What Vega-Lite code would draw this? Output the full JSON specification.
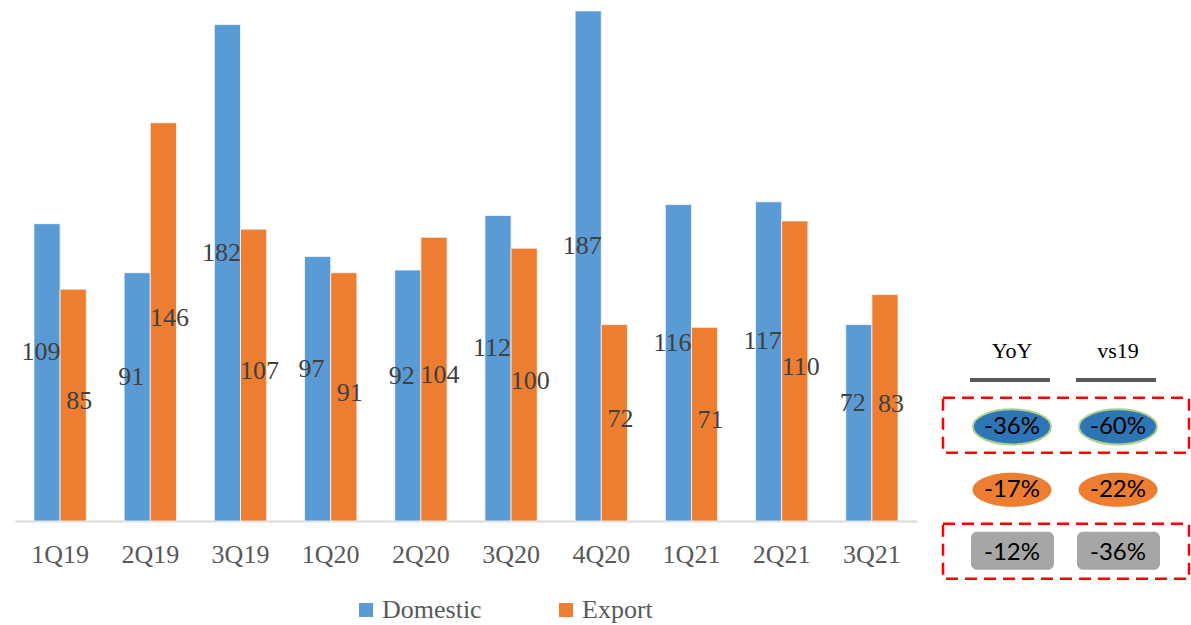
{
  "$schema": "https://vega.github.io/schema/vega-lite/v6.json",
  "padding": {"left": 15, "top": 0, "right": 0, "bottom": 0},
  "background": "white",
  "spacing": 20,
  "config": {
    "view": {"stroke": null},
    "legend": {"labelFont": "Liberation Serif", "labelFontSize": 26, "labelColor": "#595959"}
  },
  "resolve": {"legend": {"color": "independent"}},
  "datasets": {
    "quarters": [
      {"quarter": "1Q19", "series": "Domestic", "value": 109},
      {"quarter": "1Q19", "series": "Export", "value": 85},
      {"quarter": "2Q19", "series": "Domestic", "value": 91},
      {"quarter": "2Q19", "series": "Export", "value": 146},
      {"quarter": "3Q19", "series": "Domestic", "value": 182},
      {"quarter": "3Q19", "series": "Export", "value": 107},
      {"quarter": "1Q20", "series": "Domestic", "value": 97},
      {"quarter": "1Q20", "series": "Export", "value": 91},
      {"quarter": "2Q20", "series": "Domestic", "value": 92},
      {"quarter": "2Q20", "series": "Export", "value": 104},
      {"quarter": "3Q20", "series": "Domestic", "value": 112},
      {"quarter": "3Q20", "series": "Export", "value": 100},
      {"quarter": "4Q20", "series": "Domestic", "value": 187},
      {"quarter": "4Q20", "series": "Export", "value": 72},
      {"quarter": "1Q21", "series": "Domestic", "value": 116},
      {"quarter": "1Q21", "series": "Export", "value": 71},
      {"quarter": "2Q21", "series": "Domestic", "value": 117},
      {"quarter": "2Q21", "series": "Export", "value": 110},
      {"quarter": "3Q21", "series": "Domestic", "value": 72},
      {"quarter": "3Q21", "series": "Export", "value": 83}
    ],
    "panel": [
      {"col": "YoY", "row": 1, "metric": "Domestic", "label": "-36%"},
      {"col": "vs19", "row": 1, "metric": "Domestic", "label": "-60%"},
      {"col": "YoY", "row": 2, "metric": "Export", "label": "-17%"},
      {"col": "vs19", "row": 2, "metric": "Export", "label": "-22%"},
      {"col": "YoY", "row": 3, "metric": "Total", "label": "-12%"},
      {"col": "vs19", "row": 3, "metric": "Total", "label": "-36%"}
    ],
    "headers": [
      {"col": "YoY", "row": 0},
      {"col": "vs19", "row": 0}
    ],
    "boxes": [
      {"row": 1, "from": "YoY", "to": "vs19"},
      {"row": 3, "from": "YoY", "to": "vs19"}
    ]
  },
  "hconcat": [
    {
      "width": 902,
      "height": 521,
      "data": {"name": "quarters"},
      "encoding": {
        "x": {
          "field": "quarter", "type": "nominal", "sort": null,
          "scale": {"paddingInner": 0.42, "paddingOuter": 0.21},
          "axis": {
            "title": null, "labelAngle": 0, "ticks": false, "tickSize": 0,
            "domainColor": "#D9D9D9", "domainWidth": 2,
            "labelFont": "Liberation Serif", "labelFontSize": 26,
            "labelColor": "#595959", "labelPadding": 20, "grid": false
          }
        },
        "xOffset": {
          "field": "series", "type": "nominal", "sort": ["Domestic", "Export"],
          "scale": {"paddingInner": 0, "paddingOuter": 0}
        }
      },
      "layer": [
        {
          "mark": {"type": "bar", "stroke": "#FFFFFF", "strokeWidth": 0.7},
          "encoding": {
            "y": {"field": "value", "type": "quantitative", "scale": {"domain": [0, 191], "nice": false, "zero": true}, "axis": null},
            "color": {
              "field": "series", "type": "nominal", "sort": ["Domestic", "Export"],
              "scale": {"domain": ["Domestic", "Export"], "range": ["#5B9BD5", "#ED7D31"]},
              "legend": {
                "orient": "none", "legendX": 338, "legendY": 597,
                "direction": "horizontal", "title": null,
                "symbolType": "square", "symbolSize": 196, "symbolStrokeWidth": 0,
                "labelFont": "Liberation Serif", "labelFontSize": 26,
                "labelColor": "#595959", "labelOffset": 3, "columnPadding": 71,
                "padding": 0,
                "labelFontStyle": "normal",
                "labelFontWeight": "normal"
              }
            }
          }
        },
        {
          "transform": [
            {"filter": "datum.series === 'Domestic'"},
            {"calculate": "datum.value / 2", "as": "labelPos"}
          ],
          "mark": {"type": "text", "font": "Liberation Serif", "fontSize": 26, "fill": "#404040", "baseline": "middle", "align": "center", "dx": -6, "dy": -20},
          "encoding": {
            "y": {"field": "labelPos", "type": "quantitative", "scale": {"domain": [0, 191], "nice": false, "zero": true}, "axis": null},
            "text": {"field": "value", "type": "quantitative"}
          }
        },
        {
          "transform": [
            {"filter": "datum.series === 'Export'"},
            {"calculate": "datum.value / 2", "as": "labelPos"}
          ],
          "mark": {"type": "text", "font": "Liberation Serif", "fontSize": 26, "fill": "#404040", "baseline": "middle", "align": "center", "dx": 6, "dy": -4},
          "encoding": {
            "y": {"field": "labelPos", "type": "quantitative", "scale": {"domain": [0, 191], "nice": false, "zero": true}, "axis": null},
            "text": {"field": "value", "type": "quantitative"}
          }
        }
      ]
    },
    {
      "width": 256,
      "height": 600,
      "layer": [
        {
          "data": {"name": "boxes"},
          "mark": {"type": "rect", "fill": null, "filled": false, "stroke": "#FF0000", "strokeWidth": 2.5, "strokeDash": [12, 7], "xOffset": -69, "x2Offset": 71, "yOffset": -29, "y2Offset": 26},
          "encoding": {
            "x": {"field": "from", "type": "nominal", "scale": {"type": "point", "domain": ["YoY", "vs19"], "padding": 0.7075}, "axis": null},
            "x2": {"field": "to"},
            "y": {"field": "row", "type": "quantitative", "scale": {"domain": [-5.78, 3.75], "nice": false, "zero": false, "reverse": true}, "axis": null},
            "y2": {"field": "row"}
          }
        },
        {
          "data": {"name": "headers"},
          "mark": {"type": "rect", "fill": "#595959", "xOffset": -42, "x2Offset": 38, "yOffset": 14, "y2Offset": 18},
          "encoding": {
            "x": {"field": "col", "type": "nominal", "scale": {"type": "point", "domain": ["YoY", "vs19"], "padding": 0.7075}, "axis": null},
            "x2": {"field": "col"},
            "y": {"field": "row", "type": "quantitative", "scale": {"domain": [-5.78, 3.75], "nice": false, "zero": false, "reverse": true}, "axis": null},
            "y2": {"field": "row"}
          }
        },
        {
          "data": {"name": "headers"},
          "mark": {"type": "text", "font": "Liberation Serif", "fontSize": 22, "fill": "#000000", "baseline": "middle", "dy": -13},
          "encoding": {
            "x": {"field": "col", "type": "nominal", "scale": {"type": "point", "domain": ["YoY", "vs19"], "padding": 0.7075}, "axis": null},
            "y": {"field": "row", "type": "quantitative", "scale": {"domain": [-5.78, 3.75], "nice": false, "zero": false, "reverse": true}, "axis": null},
            "text": {"field": "col"}
          }
        },
        {
          "data": {"name": "panel"},
          "transform": [{"filter": "datum.metric === 'Domestic'"}],
          "mark": {"type": "point", "filled": true, "opacity": 1, "fill": "#2E75B6", "stroke": "#A9D18E", "strokeWidth": 2, "strokeOpacity": 1, "size": 6084, "shape": "M -1 0 A 1 0.45 0 1 1 1 0 A 1 0.45 0 1 1 -1 0 Z"},
          "encoding": {
            "x": {"field": "col", "type": "nominal", "scale": {"type": "point", "domain": ["YoY", "vs19"], "padding": 0.7075}, "axis": null},
            "y": {"field": "row", "type": "quantitative", "scale": {"domain": [-5.78, 3.75], "nice": false, "zero": false, "reverse": true}, "axis": null}
          }
        },
        {
          "data": {"name": "panel"},
          "transform": [{"filter": "datum.metric === 'Export'"}],
          "mark": {"type": "point", "filled": true, "opacity": 1, "fill": "#ED7D31", "strokeWidth": 0, "size": 6241, "shape": "M -1 0 A 1 0.43 0 1 1 1 0 A 1 0.43 0 1 1 -1 0 Z"},
          "encoding": {
            "x": {"field": "col", "type": "nominal", "scale": {"type": "point", "domain": ["YoY", "vs19"], "padding": 0.7075}, "axis": null},
            "y": {"field": "row", "type": "quantitative", "scale": {"domain": [-5.78, 3.75], "nice": false, "zero": false, "reverse": true}, "axis": null}
          }
        },
        {
          "data": {"name": "panel"},
          "transform": [{"filter": "datum.metric === 'Total'"}],
          "mark": {"type": "rect", "fill": "#A6A6A6", "cornerRadius": 6, "xOffset": -41, "x2Offset": 42, "yOffset": -21, "y2Offset": 17},
          "encoding": {
            "x": {"field": "col", "type": "nominal", "scale": {"type": "point", "domain": ["YoY", "vs19"], "padding": 0.7075}, "axis": null},
            "x2": {"field": "col"},
            "y": {"field": "row", "type": "quantitative", "scale": {"domain": [-5.78, 3.75], "nice": false, "zero": false, "reverse": true}, "axis": null},
            "y2": {"field": "row"}
          }
        },
        {
          "data": {"name": "panel"},
          "mark": {"type": "text", "font": "Lato", "fontSize": 24, "fill": "#000000", "baseline": "middle", "align": "center"},
          "encoding": {
            "x": {"field": "col", "type": "nominal", "scale": {"type": "point", "domain": ["YoY", "vs19"], "padding": 0.7075}, "axis": null},
            "y": {"field": "row", "type": "quantitative", "scale": {"domain": [-5.78, 3.75], "nice": false, "zero": false, "reverse": true}, "axis": null},
            "text": {"field": "label"}
          }
        }
      ]
    }
  ]
}
